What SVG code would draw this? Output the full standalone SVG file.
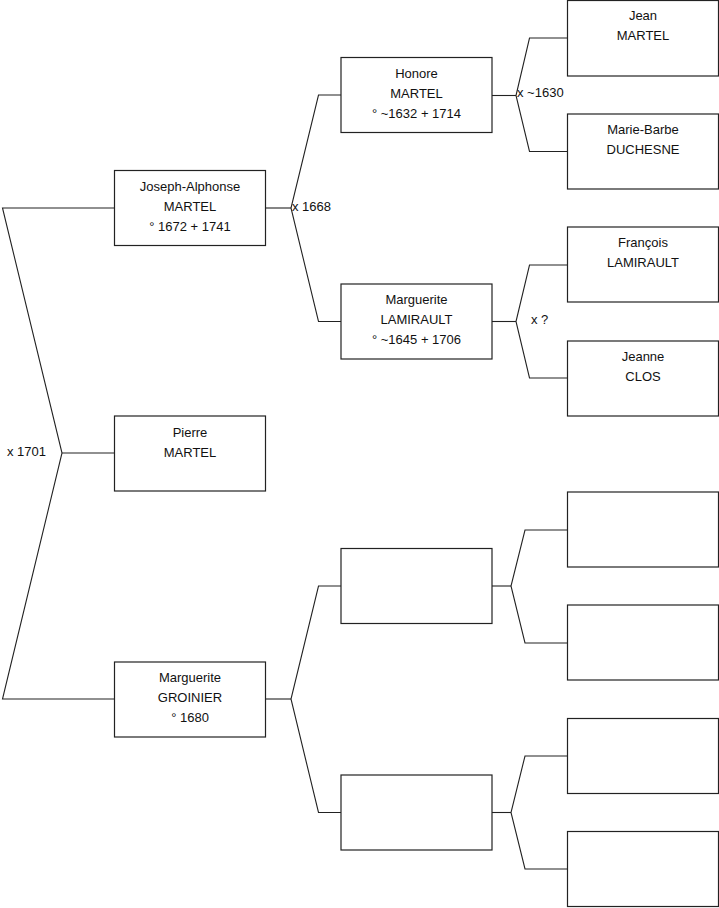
<svg xmlns="http://www.w3.org/2000/svg" width="719" height="908" viewBox="0 0 719 908">
<style>
.box{fill:#ffffff;stroke:#222222;stroke-width:1.2}
.ln{fill:none;stroke:#222222;stroke-width:1.1}
text{font-family:"Liberation Sans",Arial,sans-serif;font-size:13px;fill:#111111}
.c{text-anchor:middle}
</style>
<rect width="719" height="908" fill="#ffffff"/>
<g id="connectors">
<polyline class="ln" points="114,208 2.5,208 62,453 2.5,699 114,699"/>
<line class="ln" x1="62" y1="453" x2="114" y2="453"/>
<polyline class="ln" points="341,95 318.5,95 291,208 318.5,321.5 341,321.5"/>
<line class="ln" x1="265" y1="208" x2="291" y2="208"/>
<polyline class="ln" points="567,38 529.5,38 516,95.5 529.5,151.5 567,151.5"/>
<line class="ln" x1="492" y1="95.5" x2="516" y2="95.5"/>
<polyline class="ln" points="567,265 529.5,265 516,321.5 529.5,378 567,378"/>
<line class="ln" x1="492" y1="321.5" x2="516" y2="321.5"/>
<polyline class="ln" points="341,586 318.5,586 291,699 318.5,812.5 341,812.5"/>
<line class="ln" x1="265" y1="699" x2="291" y2="699"/>
<polyline class="ln" points="567,530 525,530 511,586 525,643 567,643"/>
<line class="ln" x1="492" y1="586" x2="511" y2="586"/>
<polyline class="ln" points="567,756 525,756 511,812.5 525,869 567,869"/>
<line class="ln" x1="492" y1="812.5" x2="511" y2="812.5"/>
<text x="7" y="456">x 1701</text>
<text x="292" y="211">x 1668</text>
<text x="517" y="97">x ~1630</text>
<text x="531" y="324">x ?</text>
</g>
<g id="joseph">
<rect class="box" x="114.5" y="170.5" width="151" height="75"/>
<text class="c" x="190" y="191">Joseph-Alphonse</text>
<text class="c" x="190" y="211">MARTEL</text>
<text class="c" x="190" y="231">° 1672 + 1741</text>
</g>
<g id="pierre">
<rect class="box" x="114.5" y="416" width="151" height="75"/>
<text class="c" x="190" y="437">Pierre</text>
<text class="c" x="190" y="457">MARTEL</text>
</g>
<g id="marguerite-groinier">
<rect class="box" x="114.5" y="662" width="151" height="75"/>
<text class="c" x="190" y="682">Marguerite</text>
<text class="c" x="190" y="702">GROINIER</text>
<text class="c" x="190" y="722">° 1680</text>
</g>
<g id="honore">
<rect class="box" x="341" y="57.5" width="151" height="75"/>
<text class="c" x="416.5" y="78">Honore</text>
<text class="c" x="416.5" y="98">MARTEL</text>
<text class="c" x="416.5" y="118">° ~1632 + 1714</text>
</g>
<g id="marguerite-lamirault">
<rect class="box" x="341" y="284" width="151" height="75"/>
<text class="c" x="416.5" y="304">Marguerite</text>
<text class="c" x="416.5" y="324">LAMIRAULT</text>
<text class="c" x="416.5" y="344">° ~1645 + 1706</text>
</g>
<g id="empty-1">
<rect class="box" x="341" y="548.5" width="151" height="75"/>
</g>
<g id="empty-2">
<rect class="box" x="341" y="775" width="151" height="75"/>
</g>
<g id="jean">
<rect class="box" x="567.5" y="0.5" width="151" height="75.5"/>
<text class="c" x="643" y="20">Jean</text>
<text class="c" x="643" y="40">MARTEL</text>
</g>
<g id="marie-barbe">
<rect class="box" x="567.5" y="114" width="151" height="75"/>
<text class="c" x="643" y="134">Marie-Barbe</text>
<text class="c" x="643" y="154">DUCHESNE</text>
</g>
<g id="francois">
<rect class="box" x="567.5" y="227" width="151" height="75"/>
<text class="c" x="643" y="247">François</text>
<text class="c" x="643" y="267">LAMIRAULT</text>
</g>
<g id="jeanne">
<rect class="box" x="567.5" y="341" width="151" height="75"/>
<text class="c" x="643" y="361">Jeanne</text>
<text class="c" x="643" y="381">CLOS</text>
</g>
<g id="empty-3"><rect class="box" x="567.5" y="492" width="151" height="75"/></g>
<g id="empty-4"><rect class="box" x="567.5" y="605" width="151" height="75"/></g>
<g id="empty-5"><rect class="box" x="567.5" y="718.5" width="151" height="75"/></g>
<g id="empty-6"><rect class="box" x="567.5" y="831.5" width="151" height="75"/></g>
</svg>
